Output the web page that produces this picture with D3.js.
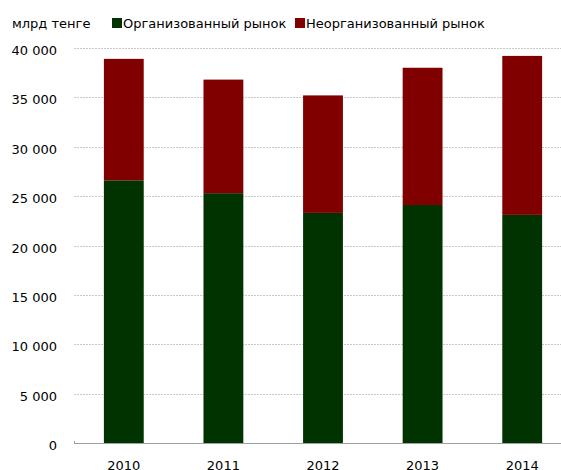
<!DOCTYPE html>
<html>
<head>
<meta charset="utf-8">
<script src="https://cdn.jsdelivr.net/npm/d3@7"></script>
<style>
  body { margin: 0; background: #fff; }
  svg text { font-family: "DejaVu Sans", Verdana, sans-serif; font-size: 13px; fill: #000; }
</style>
</head>
<body>
<svg id="chart" width="561" height="470"></svg>
<script>
// данные (млрд тенге)
var years = ["2010", "2011", "2012", "2013", "2014"];
var organized = [26600, 25300, 23300, 24100, 23100];
var unorganized = [12300, 11500, 11900, 13900, 16100];
var seriesNames = ["Организованный рынок", "Неорганизованный рынок"];
var yTicks = [0, 5000, 10000, 15000, 20000, 25000, 30000, 35000, 40000];

var colors = ["#003300", "#800000"];

var svg = d3.select("#chart");
var plotLeft = 74, plotRight = 572, plotTop = 48, plotBottom = 443;

var x = d3.scaleBand().domain(years).range([plotLeft, plotRight]).paddingInner(0.6).paddingOuter(0.3);
var y = d3.scaleLinear().domain([0, 40000]).range([plotBottom, plotTop]);

var fmt = function(d) { return d3.format(",")(d).replace(/,/g, " "); };

// сетка
svg.append("g").selectAll("line")
  .data(yTicks.filter(function(d) { return d > 0; }))
  .enter().append("line")
  .attr("x1", plotLeft).attr("x2", 561)
  .attr("y1", function(d) { return Math.round(y(d)) + 0.5; })
  .attr("y2", function(d) { return Math.round(y(d)) + 0.5; })
  .attr("stroke", "#c8c8c8")
  .attr("stroke-width", 1)
  .attr("stroke-dasharray", "2,1");

// подписи оси Y
svg.append("g").selectAll("text")
  .data(yTicks)
  .enter().append("text")
  .attr("x", 57)
  .attr("y", function(d) { return y(d) + 7; })
  .attr("text-anchor", "end")
  .text(fmt);

// столбцы
var stacked = years.map(function(yr, i) {
  return { year: yr, parts: [[0, organized[i]], [organized[i], organized[i] + unorganized[i]]] };
});

var groups = svg.append("g").selectAll("g")
  .data(stacked)
  .enter().append("g");

groups.selectAll("rect")
  .data(function(d) { return d.parts.map(function(p, k) { return { year: d.year, p: p, k: k }; }); })
  .enter().append("rect")
  .attr("x", function(d) { return x(d.year); })
  .attr("width", x.bandwidth())
  .attr("y", function(d) { return y(d.p[1]); })
  .attr("height", function(d) { return y(d.p[0]) - y(d.p[1]); })
  .attr("fill", function(d) { return colors[d.k]; });

// ось X
svg.append("line")
  .attr("x1", plotLeft).attr("x2", 561)
  .attr("y1", plotBottom + 0.5).attr("y2", plotBottom + 0.5)
  .attr("stroke", "#a0a0a0");
svg.append("line")
  .attr("x1", plotLeft + 0.5).attr("x2", plotLeft + 0.5)
  .attr("y1", plotBottom - 2).attr("y2", plotBottom + 1)
  .attr("stroke", "#a0a0a0");

svg.append("g").selectAll("text")
  .data(years)
  .enter().append("text")
  .attr("x", function(d) { return x(d) + x.bandwidth() / 2; })
  .attr("y", 469.5)
  .attr("text-anchor", "middle")
  .text(function(d) { return d; });

// единицы и легенда
svg.append("text").attr("x", 12).attr("y", 28).text("млрд тенге");

var legendX = [112, 295];
var legend = svg.append("g").selectAll("g")
  .data(seriesNames)
  .enter().append("g")
  .attr("transform", function(d, i) { return "translate(" + legendX[i] + ",0)"; });
legend.append("rect")
  .attr("x", 0).attr("y", 18)
  .attr("width", 10).attr("height", 10)
  .attr("fill", function(d, i) { return colors[i]; });
legend.append("text")
  .attr("x", 11).attr("y", 28)
  .text(function(d) { return d; });
</script>
</body>
</html>
